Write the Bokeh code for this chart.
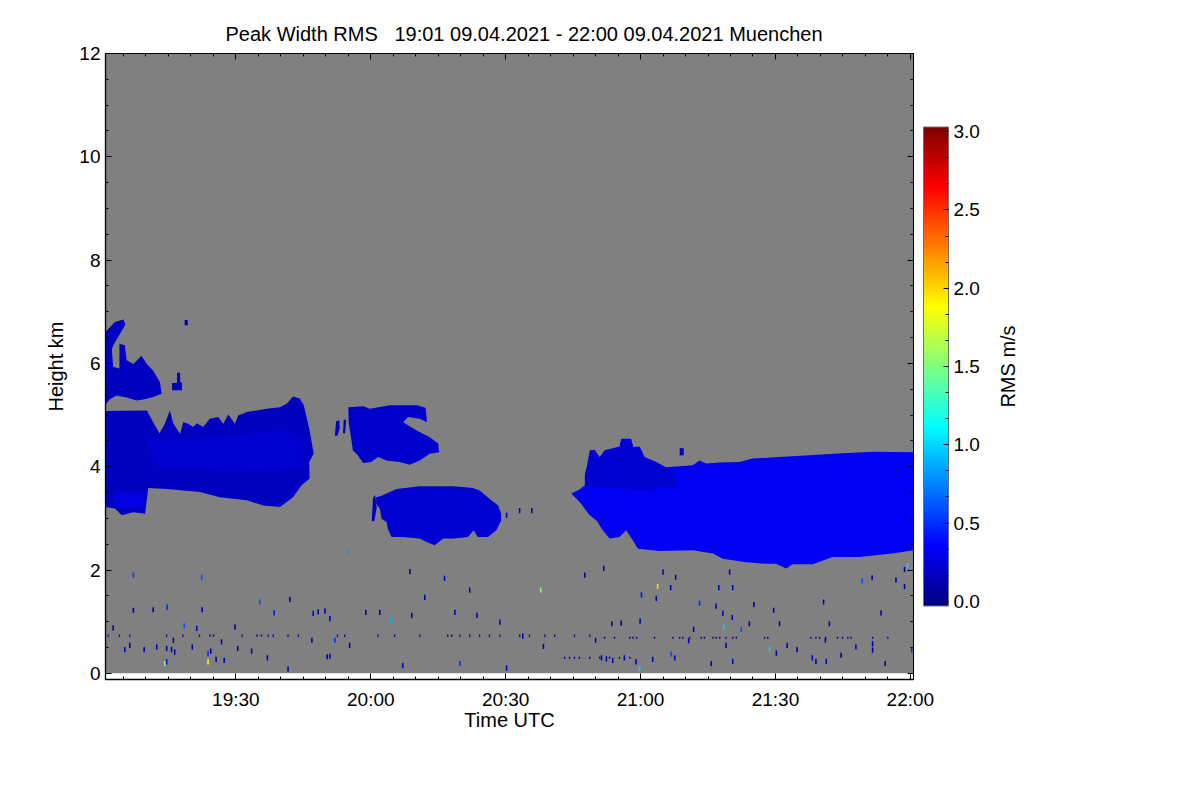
import math
from datetime import datetime, timezone
from bokeh.plotting import figure
from bokeh.layouts import row
from bokeh.models import (ColumnDataSource, LinearColorMapper, ColorBar, Range1d, LinearAxis,
                          DatetimeAxis, SingleIntervalTicker, DatetimeTickFormatter, FixedTicker,
                          PrintfTickFormatter, CustomJSTickFormatter)
from bokeh.transform import transform
from bokeh.embed import file_html
from bokeh.resources import INLINE

# ---------------- data (time in minutes after 19:00 UTC, height in km) ----------------
T_START = 1.0      # 19:01
T_END = 180.7      # 22:00
H_TOP = 12.0

TITLE = "Peak Width RMS \u00a0 19:01 09.04.2021 - 22:00 09.04.2021 Muenchen"
X_LABEL = "Time UTC"
Y_LABEL = "Height km"
CB_LABEL = "RMS m/s"

# cloud outlines (polygons) and their RMS value (m/s)
cloudA_t = [1.0, 10.2, 11.6, 13.0, 14.2, 15.3, 16.1, 17.6, 18.3, 19.4, 20.5, 21.3, 22.7, 24.2, 26.1, 27.2,
            28.3, 29.8, 30.5, 32.4, 34.6, 36.8, 39.8, 41.3, 42.7, 44.2, 45.1, 46.4, 47.3, 46.3, 46.4,
            44.6, 42.7, 39.8, 36.1, 32.4, 26.4, 22.0, 14.6, 10.5, 9.8, 7.2, 4.6, 3.1, 1.0]
cloudA_h = [5.08, 5.09, 4.86, 4.65, 4.83, 5.09, 4.83, 4.64, 4.86, 4.83, 4.77, 4.84, 4.77, 4.93, 4.96, 4.83,
            5.01, 4.83, 4.99, 5.06, 5.09, 5.12, 5.15, 5.22, 5.36, 5.32, 5.19, 4.70, 4.25, 4.09, 3.77,
            3.64, 3.41, 3.22, 3.25, 3.35, 3.41, 3.51, 3.57, 3.59, 3.09, 3.12, 3.06, 3.19, 3.22]
coreA_t = [10.0, 20.0, 30.0, 40.0, 45.0, 45.0, 35.0, 25.0, 12.0]
coreA_h = [4.55, 4.55, 4.60, 4.70, 4.60, 4.00, 3.90, 3.95, 4.00]
lowA_t = [3.0, 9.5, 9.5, 3.0]
lowA_h = [3.22, 3.20, 3.50, 3.50]

cloudB_t = [1.0, 3.1, 5.0, 5.4, 4.2, 3.1, 2.4, 2.7, 4.1, 4.1, 5.3, 5.7, 7.2, 9.0, 10.2, 11.6, 13.1, 13.5,
            11.6, 9.4, 7.9, 5.7, 3.4, 1.9, 1.0]
cloudB_h = [6.61, 6.80, 6.85, 6.75, 6.57, 6.41, 6.28, 5.93, 5.90, 6.38, 6.35, 6.06, 5.99, 6.15, 5.99, 5.86,
            5.64, 5.41, 5.35, 5.30, 5.28, 5.34, 5.38, 5.30, 5.20]
smallB_t = [15.8, 18.0, 18.0, 17.6, 17.6, 16.9, 16.9, 15.8]
smallB_h = [5.48, 5.48, 5.62, 5.65, 5.82, 5.82, 5.62, 5.62]
dotB_t = [18.6, 19.3, 19.3, 18.6]
dotB_h = [6.74, 6.74, 6.84, 6.84]

cloudC_t = [55.0, 58.3, 59.8, 64.2, 70.2, 72.2, 72.5, 70.9, 68.3, 67.2, 70.2, 73.1, 75.0, 75.2, 73.1, 70.9,
            68.7, 66.4, 63.5, 61.6, 60.1, 58.3, 57.1, 56.0, 55.6, 55.1]
cloudC_h = [5.15, 5.17, 5.12, 5.19, 5.19, 5.14, 4.86, 4.93, 4.96, 4.86, 4.70, 4.57, 4.45, 4.28, 4.25, 4.12,
            4.04, 4.09, 4.12, 4.19, 4.09, 4.07, 4.22, 4.32, 4.57, 4.83]
leftC1_t = [52.0, 52.6, 53.1, 53.0, 52.3]
leftC1_h = [4.60, 4.60, 4.75, 4.90, 4.88]
leftC2_t = [53.8, 54.3, 54.5, 54.0]
leftC2_h = [4.65, 4.65, 4.90, 4.92]

cloudD_t = [61.2, 62.4, 65.7, 70.9, 78.3, 82.7, 84.2, 86.4, 88.3, 89.0, 89.0, 87.9, 86.1, 83.8, 82.9, 81.6,
            78.3, 76.1, 74.2, 72.4, 70.9, 67.2, 64.6, 63.8, 63.5, 62.4, 62.0, 61.2]
cloudD_h = [3.41, 3.44, 3.57, 3.62, 3.62, 3.59, 3.54, 3.38, 3.25, 3.09, 2.96, 2.77, 2.64, 2.64, 2.77, 2.64,
            2.61, 2.61, 2.48, 2.54, 2.61, 2.64, 2.64, 2.80, 2.93, 2.99, 3.19, 3.28]
leftD_t = [60.2, 60.8, 61.3, 61.0, 60.5]
leftD_h = [2.95, 2.95, 3.20, 3.45, 3.40]

cloudE_t = [104.6, 106.4, 107.6, 107.6, 108.1, 108.7, 109.8, 110.9, 112.0, 115.3, 115.7, 117.9, 118.4,
            119.8, 120.9, 123.5, 125.7, 131.6, 133.1, 134.6, 137.6, 142.0, 144.9, 153.8, 164.9, 172.0,
            180.7, 180.7, 176.0, 168.7, 162.7, 158.3, 153.8, 152.4, 150.1, 147.9, 143.5, 138.3, 136.1,
            131.6, 124.2, 119.4, 118.3, 116.8, 115.3, 113.1, 111.6, 110.2, 108.7, 106.4]
cloudE_h = [3.48, 3.56, 3.64, 3.86, 4.03, 4.32, 4.33, 4.19, 4.32, 4.39, 4.54, 4.54, 4.38,
            4.39, 4.19, 4.09, 3.99, 4.03, 4.12, 4.06, 4.08, 4.09, 4.16, 4.20, 4.26, 4.29,
            4.28, 2.38, 2.32, 2.25, 2.25, 2.11, 2.11, 2.03, 2.12, 2.12, 2.15, 2.22, 2.32,
            2.38, 2.37, 2.41, 2.57, 2.77, 2.64, 2.61, 2.77, 2.96, 3.06, 3.32]
darkE_t = [107.8, 107.8, 108.3, 108.8, 110.0, 111.0, 112.0, 115.3, 115.8, 117.8, 118.4, 119.8, 121.0,
           123.5, 126.0, 128.0, 128.0, 120.0, 113.0]
darkE_h = [3.62, 3.86, 4.03, 4.28, 4.28, 4.15, 4.28, 4.35, 4.50, 4.50, 4.35, 4.35, 4.15,
           4.05, 3.95, 3.85, 3.60, 3.55, 3.60]
blobE_t = [128.7, 129.6, 129.6, 128.7]
blobE_h = [4.22, 4.22, 4.36, 4.36]

cloud_t = [cloudA_t, coreA_t, lowA_t, cloudB_t, smallB_t, dotB_t, cloudC_t, leftC1_t, leftC2_t,
           cloudD_t, leftD_t, cloudE_t, darkE_t, blobE_t]
cloud_h = [cloudA_h, coreA_h, lowA_h, cloudB_h, smallB_h, dotB_h, cloudC_h, leftC1_h, leftC2_h,
           cloudD_h, leftD_h, cloudE_h, darkE_h, blobE_h]
cloud_rms = [0.17, 0.22, 0.27, 0.17, 0.15, 0.12, 0.20, 0.18, 0.18, 0.22, 0.20, 0.32, 0.21, 0.15]

# isolated noise returns near the ground: time (min), height (km), RMS (m/s)
spk_t = [7.2, 22.4, 7.2, 11.6, 14.7, 22.5, 35.3, 42.0, 38.5, 47.2, 48.3, 49.8, 50.9, 2.7, 21.3, 29.8,
         18.5, 16.1, 6.4, 5.3, 9.6, 12.4, 14.6, 15.7, 16.4, 20.3, 24.4, 23.8, 23.8, 14.2, 14.6, 25.6,
         27.4, 41.6, 50.3, 52.0, 26.8, 30.4, 33.5, 37.0,
         54.9, 68.7, 64.4, 62.0, 69.1, 78.7, 83.6, 76.4, 82.0, 97.8, 98.4, 55.3, 50.9, 67.1, 79.8,
         90.2, 58.9, 72.0, 88.7, 93.8, 107.6, 46.9, 110.0, 90.2, 93.1, 95.8,
         111.8, 125.0, 127.8, 123.8, 126.7, 120.2, 123.5, 133.1, 137.4, 140.5, 139.8, 136.8, 138.3,
         140.4, 145.2, 149.6, 150.9, 160.7, 162.0, 169.3, 171.5, 173.5, 176.8, 178.7, 179.4, 178.7,
         113.6, 115.7, 119.9, 131.8, 138.5, 142.4, 144.2, 139.0, 130.7, 148.7, 150.2, 152.6, 154.8,
         161.1, 164.6, 167.9, 171.6, 171.6, 158.2, 159.0, 161.3, 174.4, 180.3, 135.7, 140.5, 126.8,
         127.6, 119.8, 119.0, 116.4, 113.8, 112.4, 122.7, 111.3]
spk_h = [1.90, 1.86, 1.22, 1.23, 1.28, 1.23, 1.38, 1.43, 1.17, 1.16, 1.19, 1.21, 1.06, 0.88, 0.87, 0.90,
         0.92, 0.64, 0.54, 0.46, 0.46, 0.51, 0.48, 0.46, 0.41, 0.51, 0.43, 0.38, 0.22, 0.19, 0.22, 0.27,
         0.25, 0.08, 0.32, 0.64, 0.61, 0.48, 0.43, 0.30,
         2.34, 1.97, 1.03, 1.18, 1.12, 1.18, 1.12, 1.84, 1.61, 1.61, 0.52, 0.54, 0.33, 0.15, 0.19,
         0.10, 1.18, 1.47, 0.99, 0.72, 1.90, 0.64, 0.64, 3.06, 3.15, 3.15,
         2.03, 1.96, 1.86, 1.68, 1.66, 1.52, 1.45, 1.36, 1.66, 1.66, 1.96, 1.30, 1.16,
         1.08, 1.33, 1.22, 0.96, 1.38, 0.96, 1.79, 1.85, 1.17, 1.81, 2.01, 2.08, 1.68,
         0.96, 0.97, 1.01, 0.85, 0.90, 0.85, 0.96, 0.54, 0.63, 0.48, 0.39, 0.54, 0.46,
         0.64, 0.35, 0.51, 0.57, 0.45, 0.30, 0.23, 0.23, 0.19, 0.45, 0.19, 0.23, 0.37,
         0.30, 0.09, 0.22, 0.30, 0.25, 0.28, 0.27, 0.30]
spk_v = [0.55, 0.60, 0.12, 0.08, 0.45, 0.08, 0.60, 0.12, 0.40, 0.30, 0.12, 0.12, 0.30, 0.12, 0.12, 0.08,
         0.60, 0.12, 0.12, 0.12, 0.10, 0.12, 0.12, 0.12, 0.12, 0.12, 0.12, 0.50, 1.90, 1.60, 0.40, 0.12,
         0.12, 0.12, 0.12, 0.50, 0.12, 0.08, 0.12, 0.12,
         0.80, 0.12, 0.90, 0.12, 0.12, 0.12, 0.12, 0.12, 0.12, 1.50, 0.12, 0.12, 0.30, 0.12, 0.50,
         0.12, 0.12, 0.12, 0.30, 0.12, 0.12, 0.12, 0.12, 0.15, 0.15, 0.15,
         0.12, 0.12, 0.12, 2.00, 0.12, 0.40, 0.12, 0.50, 0.12, 0.12, 0.12, 0.12, 0.12,
         0.12, 0.12, 0.12, 0.12, 0.12, 0.12, 0.60, 0.12, 0.12, 0.12, 0.12, 1.00, 0.12,
         0.12, 0.12, 0.12, 0.12, 1.00, 0.60, 0.12, 0.12, 0.12, 1.00, 0.12, 0.12, 0.12,
         0.12, 0.12, 0.12, 0.12, 0.12, 0.12, 0.12, 0.12, 0.12, 0.50, 0.12, 0.12, 0.60,
         0.12, 1.00, 0.12, 0.12, 0.12, 0.12, 0.12, 0.12]

# faint rows of returns at fixed range gates
row_t = [1.6, 4.1, 6.4, 14.6, 18.2, 21.9, 24.2, 25.0, 31.4, 34.7, 35.7, 37.2, 38.3, 41.6, 43.9, 52.6,
         54.2, 61.6, 65.3, 70.9, 77.1, 78.0, 79.8, 82.0, 84.2, 86.4, 88.7, 93.1, 95.3, 98.7, 100.9, 105.3, 108.7,
         103.1, 104.2, 105.3, 106.4, 108.7, 110.9, 113.1, 115.3, 117.6,
         112.0, 114.2, 117.6, 118.3, 119.1, 123.1, 127.2, 128.7, 129.4, 130.9, 133.5, 134.2, 136.1, 136.8,
         137.6, 139.0, 140.5, 141.3, 147.6, 148.3, 157.9, 159.0, 159.8, 161.2, 163.8, 164.9, 166.1, 166.8,
         171.6, 175.0]
row_h = [0.73] * 16 + [0.73] * 17 + [0.30] * 9 + [0.69] * 30

# ---------------- styling helpers ----------------
BASE = datetime(2021, 4, 9, 19, 0, tzinfo=timezone.utc).timestamp() * 1000.0
MIN = 60000.0


def tms(m):
    return BASE + m * MIN


def jet(n=256):
    out = []
    for i in range(n):
        t = i / (n - 1)
        r = min(max(1.5 - abs(4 * t - 3), 0), 1)
        g = min(max(1.5 - abs(4 * t - 2), 0), 1)
        b = min(max(1.5 - abs(4 * t - 1), 0), 1)
        out.append("#%02x%02x%02x" % (int(round(r * 255)), int(round(g * 255)), int(round(b * 255))))
    return out


mapper = LinearColorMapper(palette=jet(), low=-0.03, high=3.03)
FONT = "Liberation Sans"

p = figure(width=993, height=780, x_axis_type="datetime",
           x_range=Range1d(tms(T_START), tms(T_END)), y_range=Range1d(-0.12, H_TOP),
           output_backend="svg", toolbar_location=None,
           min_border_left=105, min_border_right=80, min_border_top=53, min_border_bottom=101)
p.background_fill_color = "white"
p.border_fill_color = "white"
p.outline_line_color = "black"
p.grid.visible = False

p.title.text = TITLE
p.title.align = "left"
p.title.offset = 120
p.title.standoff = 17
p.title.text_font = FONT
p.title.text_font_size = "20px"
p.title.text_font_style = "normal"
p.title.text_color = "black"

# no-data background
p.quad(left=[tms(T_START)], right=[tms(T_END)], bottom=[0], top=[H_TOP],
       fill_color="#808080", line_color=None)

# clouds
csrc = ColumnDataSource(dict(xs=[[tms(m) for m in ts] for ts in cloud_t], ys=cloud_h, rms=cloud_rms))
p.patches("xs", "ys", source=csrc, fill_color=transform("rms", mapper), line_color=None)

# speckles
ssrc = ColumnDataSource(dict(x=[tms(m) for m in spk_t], y=spk_h, v=spk_v))
p.rect("x", "y", width=0.35 * MIN, height=0.1, source=ssrc,
       fill_color=transform("v", mapper), line_color=None)
rsrc = ColumnDataSource(dict(x=[tms(m) for m in row_t], y=row_h))
p.rect("x", "y", width=0.3 * MIN, height=0.04, source=rsrc, fill_color="#00008c", line_color=None)

# axes
xticker = SingleIntervalTicker(interval=30 * MIN, num_minor_ticks=6)
yticker = SingleIntervalTicker(interval=2, num_minor_ticks=4)
fmt = DatetimeTickFormatter(minutes="%H:%M", hourmin="%H:%M", hours="%H:%M", minsec="%H:%M")
p.xaxis.ticker = xticker
p.xaxis.formatter = fmt
p.yaxis.ticker = yticker
p.xaxis.axis_label = X_LABEL
p.yaxis.axis_label = Y_LABEL
for ax in [p.xaxis[0], p.yaxis[0]]:
    ax.axis_line_color = "black"
    ax.axis_line_width = 1.3
    ax.major_tick_in = 6
    ax.major_tick_out = 0
    ax.minor_tick_in = 3
    ax.minor_tick_out = 0
    ax.major_tick_line_color = "black"
    ax.minor_tick_line_color = "black"
    ax.major_label_text_font = FONT
    ax.major_label_text_font_size = "19px"
    ax.major_label_text_color = "black"
    ax.axis_label_text_font = FONT
    ax.axis_label_text_font_size = "20px"
    ax.axis_label_text_font_style = "normal"
    ax.axis_label_text_color = "black"
p.xaxis.major_label_standoff = 9
p.xaxis.axis_label_standoff = -4
p.yaxis.major_label_standoff = 5
p.yaxis.axis_label_standoff = 9

blank = CustomJSTickFormatter(code="return ''")
top_ax = DatetimeAxis(ticker=xticker, formatter=blank, major_label_standoff=0,
                      major_tick_in=6, major_tick_out=0, minor_tick_in=3, minor_tick_out=0,
                      axis_line_color="black")
p.add_layout(top_ax, "above")
right_ax = LinearAxis(ticker=yticker, formatter=blank, major_label_standoff=0,
                      major_tick_in=6, major_tick_out=0, minor_tick_in=3, minor_tick_out=0,
                      axis_line_color="black")
p.add_layout(right_ax, "right")

cb = ColorBar(color_mapper=mapper, width=25, height=479, padding=10, margin=0, location="center",
              ticker=SingleIntervalTicker(interval=0.5, num_minor_ticks=3),
              formatter=PrintfTickFormatter(format="%.1f"),
              major_label_text_font=FONT, major_label_text_font_size="19px",
              major_label_text_color="black",
              label_standoff=5, major_tick_in=5, major_tick_out=0, major_tick_line_color="black",
              minor_tick_in=3, minor_tick_out=0, minor_tick_line_color="black",
              bar_line_color="#707070", border_line_color=None,
              background_fill_color=None, background_fill_alpha=0)
p.add_layout(cb, "right")

# colour-bar caption: the left-axis label of a narrow companion figure placed just right of it
cap = figure(width=60, height=780, x_range=Range1d(0, 1), y_range=Range1d(-0.12, H_TOP),
             x_axis_location=None, output_backend="svg", toolbar_location=None,
             min_border_left=0, min_border_right=0, min_border_top=53, min_border_bottom=101)
cap.outline_line_color = None
cap.grid.visible = False
cap.background_fill_color = "white"
cap.border_fill_color = "white"
cap.yaxis.ticker = FixedTicker(ticks=[])
cap.yaxis.axis_line_color = None
cap.yaxis.major_tick_out = 0
cap.yaxis.major_tick_in = 0
cap.yaxis.minor_tick_out = 0
cap.yaxis.minor_tick_in = 0
cap.yaxis.major_label_standoff = 0
cap.yaxis.axis_label = CB_LABEL
cap.yaxis.axis_label_standoff = 0
cap.yaxis.axis_label_text_font = FONT
cap.yaxis.axis_label_text_font_size = "20px"
cap.yaxis.axis_label_text_font_style = "normal"
cap.yaxis.axis_label_text_color = "black"

layout = row(p, cap)
open("out.html", "w").write(file_html(layout, INLINE))
